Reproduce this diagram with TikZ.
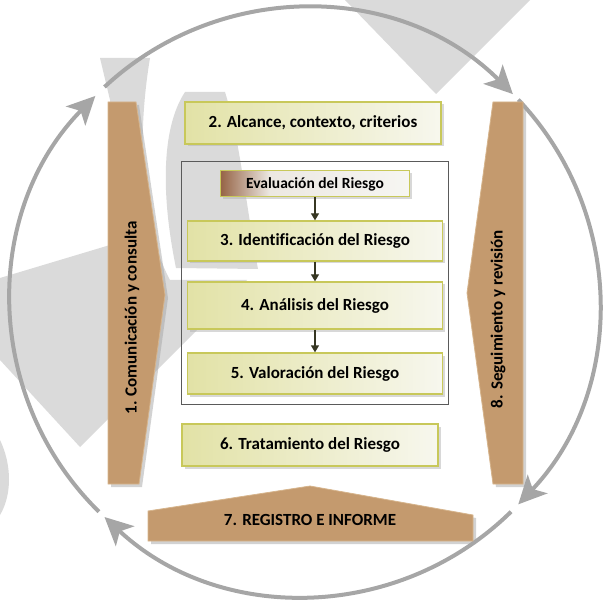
\documentclass[tikz,border=0pt]{standalone}
\usepackage{fontspec}
\setmainfont{Carlito}[Ligatures=CommonOff]
\usetikzlibrary{arrows.meta,shadows}

\definecolor{arcgray}{RGB}{166,166,166}
\definecolor{marca}{RGB}{218,218,218}
\definecolor{boxborder}{RGB}{200,200,90}
\definecolor{boxdark}{RGB}{226,226,166}
\definecolor{boxlight}{RGB}{247,247,238}
\definecolor{tan}{RGB}{196,154,110}
\definecolor{tanlight}{RGB}{242,230,216}
\definecolor{tanborder}{RGB}{214,180,140}
\definecolor{evbrown}{RGB}{150,100,70}
\definecolor{evlight}{RGB}{236,232,226}
\definecolor{evwhite}{RGB}{246,246,242}
\definecolor{pasocolor}{RGB}{55,55,35}
\definecolor{framegray}{RGB}{90,90,90}

\pgfdeclarehorizontalshading{evalshade}{100bp}{color(0bp)=(evbrown); color(25bp)=(evbrown); color(38bp)=(evlight); color(75bp)=(evwhite); color(100bp)=(evwhite)}

\begin{document}
\begin{tikzpicture}[x=1pt,y=-1pt,
    etapa/.style={draw=boxborder, line width=1.3pt, left color=boxdark, right color=boxlight,
      minimum width=255pt, minimum height=41pt, inner sep=0pt,
      font=\fontsize{17}{20}\selectfont\bfseries,
      drop shadow={shadow xshift=2.5pt, shadow yshift=-2.5pt, fill=black!30, opacity=.5}},
    brazo/.style={draw=tanborder, line width=.8pt,
      drop shadow={shadow xshift=3pt, shadow yshift=-3pt, fill=black!35, opacity=.5}},
    ciclo/.style={draw=arcgray, line width=4pt, -{Stealth[length=28pt,width=27pt,inset=7pt]}},
    paso/.style={draw=pasocolor, line width=1.3pt, -{Triangle[length=7pt,width=8pt]}}]
  \useasboundingbox (0,0) rectangle (608,604);

  % marca de agua
  \fill[marca] (345,0) -- (530,0) -- (436,94) -- cycle;
  \fill[marca] (100,58) -- (150,58) .. controls (138,130) and (138,220) .. (170,280)
    -- (247,280) -- (80,447) -- (0,360) -- (0,278) -- (110,245) -- (110,100) -- cycle;
  \fill[marca] (176,268) .. controls (162,200) and (160,130) .. (185,92) -- (225,92)
    .. controls (240,140) and (245,200) .. (258,269) -- cycle;
  \fill[marca] (0,440) .. controls (12,465) and (12,495) .. (0,515) -- cycle;

  % titulo cortado
  \node[anchor=base, inner sep=0pt, font=\fontsize{28}{30}\selectfont\bfseries] (tituloa) at (75,-15) {g};
  \node[anchor=base, inner sep=0pt, font=\fontsize{28}{30}\selectfont\bfseries] (titulob) at (571,-15) {g};

  % ciclo exterior
  \coordinate (centro) at (305,302);
  \draw[ciclo] (centro) ++(-133:294) arc[start angle=-133, end angle=-45, radius=294];
  \draw[ciclo] (centro) ++(-43.5:294) arc[start angle=-43.5, end angle=43.5, radius=294];
  \draw[ciclo] (centro) ++(45.5:294) arc[start angle=45.5, end angle=133, radius=294];
  \draw[ciclo] (centro) ++(134.5:294) arc[start angle=134.5, end angle=224.5, radius=294];

  % brazos laterales e inferior
  \path[brazo, top color=tan, middle color=tanlight, bottom color=tan]
    (108,102) -- (136,102) -- (165,295) -- (139,484) -- (108,484) -- cycle;
  \node[rotate=90, font=\fontsize{17}{20}\selectfont\bfseries] (comunic) at (132,318) {1. Comunicación y consulta};
  \path[brazo, top color=tan, middle color=tanlight, bottom color=tan]
    (523,102) -- (493,102) -- (467,293) -- (493,484) -- (523,484) -- cycle;
  \node[rotate=90, font=\fontsize{17}{20}\selectfont\bfseries] (seguim) at (498,319) {8. Seguimiento y revisión};
  \path[brazo, left color=tan, middle color=tanlight, right color=tan]
    (148,511) -- (310,486) -- (473,515) -- (473,541) -- (148,541) -- cycle;
  \node[font=\fontsize{17}{20}\selectfont\bfseries] (registro) at (310,520) {7. REGISTRO E INFORME};

  % etapas
  \node[etapa, minimum width=256pt, minimum height=42pt] (alcance) at (313,123) {2. Alcance, contexto, criterios};
  \node[draw=framegray, line width=.8pt, minimum width=267pt, minimum height=243pt] (marco) at (314.5,282.5) {};
  \node[draw=boxborder, line width=1pt, shading=evalshade, minimum width=189pt, minimum height=26pt,
    font=\fontsize{15.5}{18}\selectfont\bfseries,
    drop shadow={shadow xshift=2pt, shadow yshift=-2pt, fill=black!30, opacity=.5}] (evaluacion) at (315,184) {Evaluación del Riesgo};
  \node[etapa, minimum height=40pt] (identif) at (315,241) {3. Identificación del Riesgo};
  \node[etapa, minimum height=47pt] (analisis) at (315,305.5) {4. Análisis del Riesgo};
  \node[etapa] (valoracion) at (315,373.5) {5. Valoración del Riesgo};
  \node[etapa, minimum width=256pt, minimum height=42pt] (tratamiento) at (310,445) {6. Tratamiento del Riesgo};

  \draw[paso] (evaluacion) -- (identif);
  \draw[paso] (identif) -- (analisis);
  \draw[paso] (analisis) -- (valoracion);
\end{tikzpicture}
\end{document}
